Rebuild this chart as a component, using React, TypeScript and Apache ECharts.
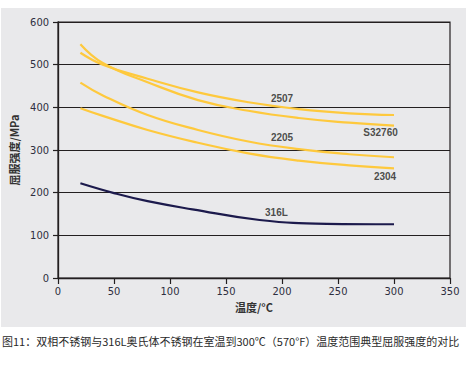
import React, { useEffect, useRef } from "react";
import * as echarts from "echarts";

// Temperatures (°C) at which values were read
const tempsDuplex = [20, 40, 80, 125, 170, 215, 260, 300];
const temps316L = [20, 50, 80, 120, 180, 240, 300];

// Yield strength (MPa)
const s2507 = [528, 500, 467, 435, 412, 396, 386, 382];
const sS32760 = [548, 504, 459, 417, 392, 375, 364, 357];
const s2205 = [458, 428, 382, 347, 320, 302, 290, 283];
const s2304 = [398, 380, 347, 317, 292, 275, 264, 257];
const s316L = [222, 199, 180, 161, 136, 127, 126];

// Curve label anchors [temperature, MPa]
const labelNames = ["2507", "S32760", "2205", "2304", "316L"];
const labelPos: number[][] = [
  [200, 421],
  [288, 341],
  [200, 329],
  [292, 237],
  [195, 154],
];

const xTicks = { min: 0, max: 350, interval: 50 };
const yTicks = { min: 0, max: 600, interval: 100 };

const yTitle = "屈服强度/MPa";
const xTitle = "温度/°C";
const caption = "图11：双相不锈钢与316L奥氏体不锈钢在室温到300℃（570°F）温度范围典型屈服强度的对比";

const YELLOW = "#fec93d";
const NAVY = "#1c1a4c";
const INK = "#231f20";
const NUM_FONT = "'Liberation Sans Narrow', 'DejaVu Sans Condensed', Arial, sans-serif";
const CJK_FONT = "'Noto Sans CJK SC', 'Noto Sans', sans-serif";

function pairs(xs: number[], ys: number[]) {
  return xs.map((x, i) => [x, ys[i]]);
}

export default function App() {
  const ref = useRef<HTMLDivElement>(null);
  useEffect(() => {
    document.body.style.margin = "0";
    const chart = echarts.init(ref.current!, null, { renderer: "svg" });
    const line = (name: string, xs: number[], ys: number[], color: string) => ({
      type: "line",
      name,
      data: pairs(xs, ys),
      smooth: 0.45,
      symbol: "none",
      lineStyle: { color, width: 2.2 },
      z: 3,
    });
    chart.setOption({
      animation: false,
      backgroundColor: "#ffffff",
      graphic: [
        {
          type: "rect",
          left: 1,
          top: 8,
          shape: { width: 465, height: 319 },
          style: { fill: "#e9e9eb" },
          z: -10,
          silent: true,
        },
        {
          type: "text",
          left: 2,
          top: 335,
          style: {
            text: caption,
            fill: "#2a2a2a",
            font: `11px ${CJK_FONT}`,
          },
        },
      ],
      grid: {
        left: 58,
        right: 20,
        top: 22,
        bottom: 89,
        show: true,
        borderColor: INK,
        borderWidth: 1.2,
        backgroundColor: "transparent",
      },
      xAxis: {
        type: "value",
        ...xTicks,
        name: xTitle,
        nameLocation: "middle",
        nameGap: 19,
        nameTextStyle: { fontFamily: CJK_FONT, fontSize: 11, color: "#333", fontWeight: "bold" },
        axisLine: { lineStyle: { color: INK, width: 1.3 } },
        axisTick: { show: true, length: 6, lineStyle: { color: INK, width: 1.2 } },
        axisLabel: { color: "#2e2e40", fontSize: 11, fontFamily: NUM_FONT, margin: 8 },
        splitLine: { show: false },
      },
      yAxis: {
        type: "value",
        ...yTicks,
        name: yTitle,
        nameLocation: "middle",
        nameRotate: 90,
        nameGap: 36,
        nameTextStyle: { fontFamily: CJK_FONT, fontSize: 11, color: "#333", fontWeight: "bold" },
        axisLine: { show: true, lineStyle: { color: INK, width: 1.3 } },
        axisTick: { show: true, length: 5, lineStyle: { color: INK, width: 1.2 } },
        axisLabel: { color: "#2e2e40", fontSize: 11, fontFamily: NUM_FONT, margin: 9 },
        splitLine: { show: true, lineStyle: { color: INK, width: 1.2 } },
      },
      series: [
        line("2507", tempsDuplex, s2507, YELLOW),
        line("S32760", tempsDuplex, sS32760, YELLOW),
        line("2205", tempsDuplex, s2205, YELLOW),
        line("2304", tempsDuplex, s2304, YELLOW),
        line("316L", temps316L, s316L, NAVY),
        {
          type: "scatter",
          symbolSize: 0,
          data: labelPos.map((p, i) => ({ value: p, name: labelNames[i] })),
          label: {
            show: true,
            position: "inside",
            formatter: (p: any) => p.name,
            color: INK,
            fontSize: 10,
            fontWeight: "bold",
            fontFamily: "'Liberation Sans', Arial, sans-serif",
          },
          z: 5,
        },
      ],
    });
    return () => chart.dispose();
  }, []);
  return <div ref={ref} style={{ width: 470, height: 367 }} />;
}
